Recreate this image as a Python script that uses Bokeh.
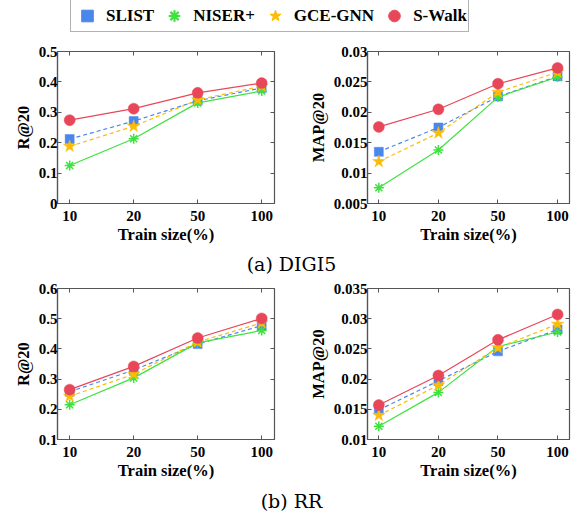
from bokeh.plotting import figure
from bokeh.layouts import column, row
from bokeh.models import (Legend, LegendItem, LinearAxis, FixedTicker, NumeralTickFormatter,
                          Range1d, ColumnDataSource)
from bokeh.embed import file_html
from bokeh.resources import INLINE
from bokeh.core.properties import value

# ---------------- data ----------------
train_sizes = ["10", "20", "50", "100"]
methods = ["SLIST", "NISER+", "GCE-GNN", "S-Walk"]

digi5_recall = {
    "SLIST":   [0.212, 0.271, 0.338, 0.380],
    "NISER+":  [0.125, 0.213, 0.331, 0.370],
    "GCE-GNN": [0.188, 0.254, 0.341, 0.386],
    "S-Walk":  [0.274, 0.312, 0.364, 0.396],
}
digi5_map = {
    "SLIST":   [0.0135, 0.0175, 0.0226, 0.0259],
    "NISER+":  [0.0076, 0.0138, 0.0225, 0.0258],
    "GCE-GNN": [0.0119, 0.0166, 0.0233, 0.0266],
    "S-Walk":  [0.0176, 0.0205, 0.0247, 0.0273],
}
rr_recall = {
    "SLIST":   [0.258, 0.330, 0.416, 0.477],
    "NISER+":  [0.215, 0.304, 0.420, 0.461],
    "GCE-GNN": [0.243, 0.316, 0.423, 0.486],
    "S-Walk":  [0.265, 0.342, 0.436, 0.501],
}
rr_map = {
    "SLIST":   [0.0149, 0.0197, 0.0246, 0.0282],
    "NISER+":  [0.0122, 0.0178, 0.0254, 0.0278],
    "GCE-GNN": [0.0140, 0.0190, 0.0252, 0.0291],
    "S-Walk":  [0.0157, 0.0206, 0.0265, 0.0307],
}

digi5_recall_ticks = [0, 0.1, 0.2, 0.3, 0.4, 0.5]
digi5_map_ticks = [0.005, 0.01, 0.015, 0.02, 0.025, 0.03]
rr_recall_ticks = [0.1, 0.2, 0.3, 0.4, 0.5, 0.6]
rr_map_ticks = [0.01, 0.015, 0.02, 0.025, 0.03, 0.035]

captions = ["(a) DIGI5", "(b) RR"]

# ---------------- styles ----------------
FONT = "Liberation Serif"
CAP_FONT = "DejaVu Serif"
colors = {"SLIST": "#4a86ec", "NISER+": "#3ee23e", "GCE-GNN": "#fbbc05", "S-Walk": "#e8475a"}
markers = {"SLIST": "square", "NISER+": "asterisk", "GCE-GNN": "star", "S-Walk": "circle"}
msize = {"SLIST": 9, "NISER+": 10, "GCE-GNN": 13, "S-Walk": 11}
dashes = {"SLIST": "4 3", "NISER+": "solid", "GCE-GNN": "4 3", "S-Walk": "solid"}
FRAME = "#555555"

x_pos = list(range(len(train_sizes)))


def make_panel(data, ticks, ylabel, width, height, bl, br, bt, bb):
    p = figure(width=width, height=height, output_backend="svg", toolbar_location=None,
               x_range=Range1d(-0.19, len(train_sizes) - 1 + 0.2),
               y_range=Range1d(ticks[0], ticks[-1]),
               min_border_left=bl, min_border_right=br, min_border_top=bt, min_border_bottom=bb)
    p.grid.visible = False
    p.outline_line_color = FRAME
    p.outline_line_width = 1.2
    for m in methods:
        src = ColumnDataSource(dict(x=x_pos, y=data[m]))
        p.line("x", "y", source=src, color=colors[m], line_width=1.2, line_dash=dashes[m])
        if markers[m] == "asterisk":
            p.scatter("x", "y", source=src, marker="asterisk", size=msize[m],
                      line_color=colors[m], line_width=1.5)
        else:
            p.scatter("x", "y", source=src, marker=markers[m], size=msize[m],
                      fill_color=colors[m], line_color=colors[m], line_width=0.5)
    for ax in (p.xaxis[0], p.yaxis[0]):
        ax.major_tick_in = 4
        ax.major_tick_out = 0
        ax.minor_tick_in = 0
        ax.minor_tick_out = 0
        ax.axis_line_color = FRAME
        ax.axis_line_width = 1.2
        ax.major_tick_line_color = FRAME
        ax.major_label_text_font = FONT
        ax.major_label_text_font_style = "bold"
        ax.major_label_text_font_size = "15px"
        ax.major_label_text_color = "black"
        ax.axis_label_text_font = FONT
        ax.axis_label_text_font_style = "bold"
        ax.axis_label_text_font_size = "16.5px"
        ax.axis_label_text_color = "black"
    p.xaxis[0].ticker = FixedTicker(ticks=x_pos)
    p.xaxis[0].major_label_overrides = {i: s for i, s in zip(x_pos, train_sizes)}
    p.xaxis[0].axis_label = "Train size(%)"
    p.xaxis[0].major_label_standoff = 7
    p.xaxis[0].axis_label_standoff = 1
    p.yaxis[0].ticker = FixedTicker(ticks=ticks)
    p.yaxis[0].formatter = NumeralTickFormatter(format="0.[000]")
    p.yaxis[0].axis_label = ylabel
    p.yaxis[0].major_label_standoff = 0
    p.yaxis[0].axis_label_standoff = 3
    # mirrored ticks (no labels)
    for loc, tk in (("right", FixedTicker(ticks=ticks)), ("above", FixedTicker(ticks=x_pos))):
        ax = LinearAxis(ticker=tk, major_label_text_font_size="0px", major_label_standoff=0,
                        major_label_text_color=None, major_label_text_alpha=0,
                        major_tick_in=4, major_tick_out=0, minor_tick_in=0, minor_tick_out=0,
                        axis_line_color=None, major_tick_line_color=FRAME)
        p.add_layout(ax, loc)
    return p


W_L, W_R = 290, 290
p1 = make_panel(digi5_recall, digi5_recall_ticks, "R@20", W_L, 212, 57, 16, 15, 45)
p2 = make_panel(digi5_map, digi5_map_ticks, "MAP@20", W_R, 212, 77, 11, 15, 45)
p3 = make_panel(rr_recall, rr_recall_ticks, "R@20", W_L, 202, 57, 16, 8, 40)
p4 = make_panel(rr_map, rr_map_ticks, "MAP@20", W_R, 202, 77, 11, 8, 40)


def make_caption(txt, height, yc):
    c = figure(width=W_L + W_R, height=height, output_backend="svg", toolbar_location=None,
               x_range=Range1d(0, W_L + W_R), y_range=Range1d(0, height),
               min_border=0, outline_line_color=None)
    c.axis.visible = False
    c.grid.visible = False
    c.text(x=[291], y=[yc], text=[txt], text_font=value(CAP_FONT), text_font_size="19px",
           text_align="center", text_baseline="middle", text_color="black")
    return c


cap1 = make_caption(captions[0], 32, 17)
cap2 = make_caption(captions[1], 35, 17)

# legend figure
lg = figure(width=W_L + W_R, height=36, output_backend="svg", toolbar_location=None,
            x_range=Range1d(0, 1), y_range=Range1d(0, 1), min_border=0,
            outline_line_color=None)
lg.axis.visible = False
lg.grid.visible = False
items = []
for m in methods:
    # dummy point outside the visible range, only used to draw the legend glyph
    src = ColumnDataSource(dict(x=[5], y=[5]))
    if markers[m] == "asterisk":
        r = lg.scatter("x", "y", source=src, marker="asterisk", size=16,
                       line_color=colors[m], line_width=2.2)
    else:
        r = lg.scatter("x", "y", source=src, marker=markers[m], size=16,
                       fill_color=colors[m], line_color=colors[m])
    items.append(LegendItem(label=m, renderers=[r]))
leg = Legend(items=items, orientation="horizontal", location=(70, 4),
             label_text_font=FONT, label_text_font_style="bold", label_text_font_size="17px",
             label_text_color="black", border_line_color="#666666", border_line_width=1.5,
             padding=1, margin=0, spacing=5, glyph_width=30, glyph_height=29,
             label_standoff=4, label_height=20, background_fill_alpha=1)
lg.add_layout(leg, "center")

layout = column(lg, row(p1, p2), cap1, row(p3, p4), cap2, spacing=0)
open("out.html", "w").write(file_html(layout, INLINE))
